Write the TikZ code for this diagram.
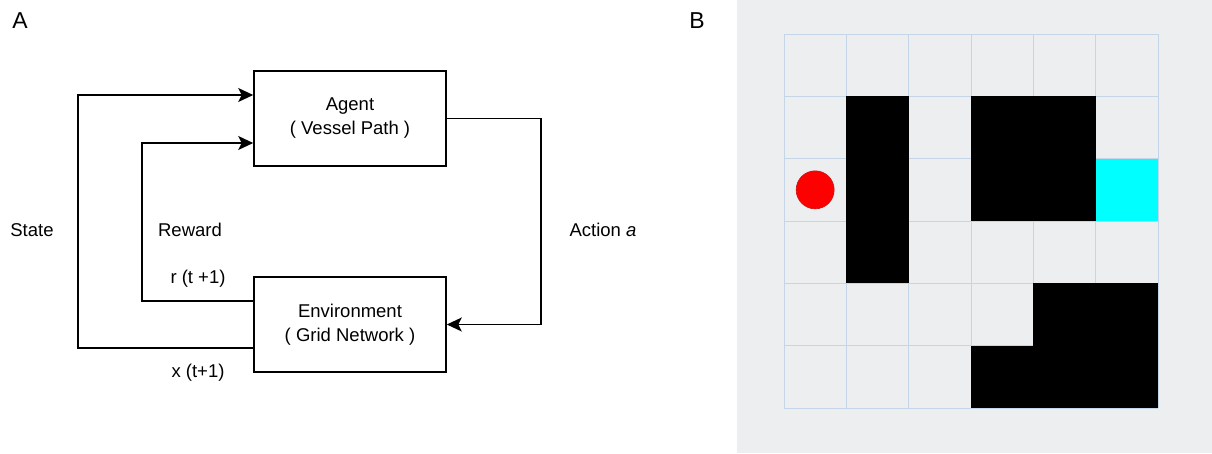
\documentclass[tikz,border=0pt]{standalone}
\usepackage{fontspec}
\setmainfont{Liberation Sans}
\usetikzlibrary{arrows.meta}
\definecolor{panelbg}{HTML}{EDEEF0}
\definecolor{gridline}{HTML}{C3D5E6}
\definecolor{goal}{HTML}{00FFFF}
\definecolor{agentred}{HTML}{FF0000}
\definecolor{agentedge}{HTML}{D01010}
\begin{document}
\begin{tikzpicture}[x=1pt,y=-1pt,
  every node/.style={font=\fontsize{18.5}{22}\selectfont, inner sep=0pt},
  blockbox/.style={draw, line width=1.6pt, minimum width=192pt, minimum height=95pt, align=center, font=\fontsize{18.5}{24}\selectfont},
  link/.style={line width=1.6pt},
  arr/.style={link, -{Stealth[length=15pt,width=14pt,inset=3.5pt]}},
  panellabel/.style={font=\fontsize{23}{26}\selectfont},
  cellc/.style={fill=black}
]
\useasboundingbox (0,0) rectangle (1212,453);
% Panel A
\node[panellabel] (labA) at (20,21) {A};
\node[blockbox] (agent) at (350,118.5) {Agent\\( Vessel Path )};
\node[blockbox] (env) at (350,324.5) {Environment\\( Grid Network )};
\draw[arr] ([yshift=-23.5pt]env.west) -- ++(-175,0) |- ([yshift=23.5pt]agent.west);
\draw[arr] ([yshift=23.5pt]env.west) -- ++(-111,0) |- ([yshift=-24.5pt]agent.west);
\draw[arr] (agent.east) -- ++(94,0) |- (env.east);
\node (state) at (32,230) {State};
\node (reward) at (190,230) {Reward};
\node (action) at (603,230) {Action \textit{a}};
\node (rlab) at (198,279) {r (t +1)};
\node (xlab) at (198,373) {x (t+1)};
% Panel B
\fill[panelbg] (737,0) rectangle (1212,453);
\node[panellabel] (labB) at (697,21) {B};
\begin{scope}[shift={(784,34)}, x=62.33pt, y=-62.33pt]
  \foreach \i in {0,...,6} {
    \draw[gridline, line width=0.8pt] (\i,0) -- (\i,6);
    \draw[gridline, line width=0.8pt] (0,\i) -- (6,\i);
  }
  \foreach \c/\r in {1/1,1/2,1/3,3/1,4/1,3/2,4/2,4/4,5/4,3/5,4/5,5/5}
    \fill[black] (\c,\r) rectangle ++(1,1);
  \fill[goal] (5,2) rectangle (6,3);
  \filldraw[fill=agentred, draw=agentedge, line width=0.6pt] (0.5,2.5) circle[radius=0.305];
\end{scope}
\end{tikzpicture}
\end{document}
